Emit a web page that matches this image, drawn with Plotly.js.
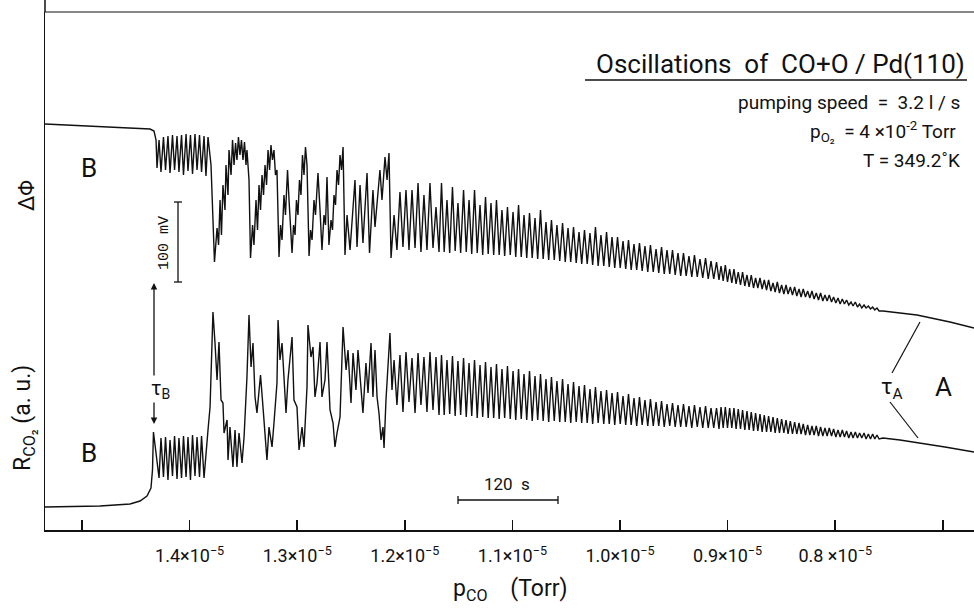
<!DOCTYPE html>
<html>
<head>
<meta charset="utf-8">
<script src="https://cdn.plot.ly/plotly-3.0.1.min.js"></script>
<style>html,body{margin:0;padding:0;background:#fff;}#chart{width:974px;height:611px;}</style>
</head>
<body>
<div id="chart"></div>
<script>
// x: p_CO in units of 1e-5 Torr ; y: signal in arbitrary units
const tickVals = [1.5, 1.4, 1.3, 1.2, 1.1, 1.0, 0.9, 0.8, 0.7];
const tickText = ['', '1.4×10<sup>−5</sup>', '1.3×10<sup>−5</sup>', '1.2×10<sup>−5</sup>', '1.1×10<sup>−5</sup>',
                  '1.0×10<sup>−5</sup>', '0.9×10<sup>−5</sup>', '0.8 ×10<sup>−5</sup>', ''];

// ΔΦ : state B and the irregular (mixed-mode) oscillations
const pcoPhiStart = [1.5344, 1.4833, 1.4368, 1.4331, 1.4312, 1.4303,
  1.4284, 1.4266, 1.4243, 1.4224, 1.4201, 1.4182, 1.4159, 1.4140, 1.4117, 1.4099, 1.4075, 1.4057,
  1.4033, 1.4015, 1.3992, 1.3973, 1.3950, 1.3931, 1.3908, 1.3889, 1.3866, 1.3848, 1.3829,
  1.3801, 1.3783, 1.3769,
  1.3745, 1.3731, 1.3717, 1.3704, 1.3690, 1.3671, 1.3662, 1.3643, 1.3634, 1.3615, 1.3601, 1.3587,
  1.3573, 1.3560, 1.3546, 1.3532, 1.3518, 1.3504, 1.3490, 1.3476, 1.3467, 1.3448, 1.3434,
  1.3415, 1.3402, 1.3383, 1.3369, 1.3355, 1.3341, 1.3327, 1.3313, 1.3299, 1.3285, 1.3271, 1.3257,
  1.3244, 1.3230, 1.3216, 1.3202, 1.3188, 1.3169,
  1.3155, 1.3141, 1.3123, 1.3109, 1.3090, 1.3076, 1.3062, 1.3048, 1.3034, 1.3020, 1.3007, 1.2993,
  1.2979, 1.2965, 1.2951, 1.2937, 1.2923, 1.2909, 1.2890,
  1.2876, 1.2862, 1.2844, 1.2830, 1.2807, 1.2788, 1.2770, 1.2751, 1.2737, 1.2723, 1.2705, 1.2686,
  1.2672, 1.2658, 1.2644, 1.2630, 1.2616, 1.2602, 1.2588, 1.2574, 1.2556,
  1.2537, 1.2509, 1.2463, 1.2444, 1.2416, 1.2389, 1.2351, 1.2328, 1.2296, 1.2277, 1.2231, 1.2212,
  1.2184, 1.2165, 1.2147, 1.2128];
const dphiStart = [406, 403, 401, 399, 390, 362,
  390, 358, 393, 360, 394, 357, 395, 360, 394, 358, 395, 355,
  396, 359, 395, 356, 396, 360, 395, 358, 394, 354, 393,
  365, 300, 268,
  302, 285, 330, 295, 345, 320, 365, 335, 380, 355, 390, 365,
  387, 370, 393, 375, 390, 370, 388, 365, 380, 350, 272,
  305, 285, 330, 300, 345, 320, 355, 335, 365, 345, 380, 360,
  385, 370, 380, 355, 360, 273,
  305, 290, 335, 315, 360, 330, 300, 277, 305, 295, 330, 315,
  350, 335, 375, 355, 383, 365, 274,
  300, 290, 330, 315, 357, 320, 280, 315, 305, 353, 285, 310,
  300, 335, 325, 360, 345, 375, 360, 383, 275,
  315, 280, 350, 283, 345, 287, 357, 277, 340, 303, 360, 330,
  373, 350, 377, 272];

// R_CO2 : state B and the irregular oscillations
const pcoRStart = [1.5344, 1.4833, 1.4554, 1.4461, 1.4396, 1.4359, 1.4345, 1.4336,
  1.4284, 1.4266, 1.4243, 1.4224, 1.4201, 1.4182, 1.4159, 1.4140, 1.4117, 1.4099, 1.4075, 1.4057,
  1.4033, 1.4015, 1.3992, 1.3973, 1.3950, 1.3931, 1.3908, 1.3889, 1.3866, 1.3848, 1.3829,
  1.3810, 1.3783, 1.3764, 1.3745, 1.3727, 1.3708, 1.3690, 1.3680, 1.3652, 1.3643, 1.3625, 1.3597,
  1.3578, 1.3560, 1.3541, 1.3513, 1.3494, 1.3467, 1.3448, 1.3429, 1.3411, 1.3392, 1.3374, 1.3341,
  1.3318, 1.3281, 1.3262, 1.3234, 1.3216, 1.3188, 1.3178, 1.3160, 1.3141, 1.3123, 1.3104, 1.3086,
  1.3048, 1.3030, 1.3002, 1.2983, 1.2955, 1.2937, 1.2909, 1.2900, 1.2872, 1.2853, 1.2835, 1.2816,
  1.2788, 1.2770, 1.2742, 1.2723, 1.2695, 1.2667, 1.2649, 1.2630, 1.2602, 1.2574, 1.2546, 1.2528,
  1.2500, 1.2481, 1.2454, 1.2435, 1.2407, 1.2389, 1.2361, 1.2342, 1.2314, 1.2296, 1.2277, 1.2258,
  1.2240, 1.2221, 1.2203, 1.2193, 1.2175, 1.2156, 1.2138, 1.2119];
const rco2Start = [23, 24, 26, 29, 34, 42, 60, 98,
  52, 92, 53, 93, 50, 90, 54, 94, 51, 92, 52, 94,
  53, 93, 50, 95, 54, 93, 53, 94, 52, 80, 100,
  123, 218, 187, 150, 188, 130, 127, 97, 110, 70, 103, 63,
  100, 63, 97, 67, 93, 153, 215, 163, 187, 133, 117, 155,
  123, 70, 103, 83, 107, 147, 210, 170, 187, 147, 117, 150,
  193, 130, 123, 80, 103, 83, 143, 205, 173, 183, 133, 147,
  188, 133, 150, 188, 120, 107, 83, 97, 113, 203, 160, 180,
  127, 177, 140, 180, 140, 117, 167, 137, 187, 133, 180, 133,
  117, 90, 103, 82, 130, 163, 197, 140];

// regular oscillations (both signals, successive maxima / minima)
const pcoOsc = [
  1.2100, 1.2073, 1.2045, 1.2017, 1.1989, 1.1961, 1.1933, 1.1905, 1.1877, 1.1850, 1.1822, 1.1794, 1.1766, 1.1738, 1.1710, 1.1682,
  1.1659, 1.1634, 1.1608, 1.1583, 1.1557, 1.1532, 1.1506, 1.1481, 1.1454, 1.1429, 1.1403, 1.1378, 1.1352, 1.1327, 1.1301, 1.1276,
  1.1250, 1.1225, 1.1199, 1.1174, 1.1148, 1.1123, 1.1097, 1.1072, 1.1046, 1.1020, 1.0994, 1.0969, 1.0943, 1.0918, 1.0892, 1.0867,
  1.0841, 1.0816, 1.0790, 1.0765, 1.0739, 1.0714, 1.0688, 1.0663, 1.0637, 1.0611, 1.0586, 1.0560, 1.0534, 1.0509, 1.0483, 1.0458,
  1.0432, 1.0407, 1.0381, 1.0356, 1.0330, 1.0305, 1.0279, 1.0254, 1.0228, 1.0203, 1.0177, 1.0151, 1.0125, 1.0100, 1.0074, 1.0049,
  1.0023, 0.9998, 0.9972, 0.9947, 0.9921, 0.9896, 0.9870, 0.9845, 0.9819, 0.9794, 0.9768, 0.9742, 0.9717, 0.9691, 0.9665, 0.9640,
  0.9614, 0.9589, 0.9563, 0.9538, 0.9512, 0.9487, 0.9461, 0.9436, 0.9410, 0.9385, 0.9359, 0.9333, 0.9308, 0.9282, 0.9257, 0.9231,
  0.9205, 0.9180, 0.9154, 0.9129, 0.9103, 0.9080,
  0.9061, 0.9041, 0.9021, 0.9001, 0.8981, 0.8961, 0.8941, 0.8921, 0.8901, 0.8880, 0.8861, 0.8840, 0.8820, 0.8800, 0.8780, 0.8759,
  0.8740, 0.8719, 0.8699, 0.8679, 0.8659, 0.8638, 0.8619, 0.8598, 0.8578, 0.8558, 0.8538, 0.8518, 0.8498, 0.8477, 0.8457, 0.8438,
  0.8417, 0.8397, 0.8377, 0.8357, 0.8336, 0.8317, 0.8297, 0.8276, 0.8256, 0.8236, 0.8216, 0.8196, 0.8176, 0.8155, 0.8136, 0.8115,
  0.8095, 0.8075, 0.8055, 0.8034, 0.8015, 0.7994, 0.7974, 0.7954, 0.7934, 0.7914, 0.7894, 0.7874, 0.7853, 0.7834, 0.7813, 0.7793,
  0.7773, 0.7753, 0.7732, 0.7713, 0.7692, 0.7672, 0.7652, 0.7632, 0.7612, 0.7592];
const dphiOsc = [
  315, 280, 338, 283, 340, 280, 340, 282, 347, 278, 335, 280, 347, 282, 323, 278,
  347, 278, 330, 277, 343, 279, 327, 277, 340, 278, 330, 276, 340, 277, 325, 275,
  333, 276, 327, 275, 330, 275, 320, 274, 323, 275, 318, 273, 325, 273, 315, 272,
  317, 272, 312, 271, 320, 271, 308, 270, 310, 270, 305, 269, 307, 268, 302, 268,
  303, 267, 298, 266, 300, 266, 297, 265, 303, 264, 295, 264, 298, 263, 293, 262,
  293, 262, 289, 261, 290, 260, 286, 260, 287, 259, 284, 258, 285, 258, 281, 257,
  283, 256, 280, 256, 280, 255, 277, 254, 277, 254, 274, 253, 275, 253, 271, 252,
  272, 251, 269, 251, 268, 250,
  264, 249, 265, 248, 261, 247, 261, 246, 258, 245, 258, 244, 255, 243, 255, 242,
  252, 242, 252, 241, 250, 240, 250, 239, 247, 238, 248, 237, 245, 236, 245, 236,
  243, 235, 243, 234, 241, 233, 241, 233, 239, 232, 239, 231, 237, 230, 237, 229,
  235, 229, 235, 228, 233, 227, 232, 226, 231, 226, 230, 225, 228, 224, 228, 223,
  226, 222, 225, 222, 224, 221, 223, 220, 222, 219];
const rco2Osc = [
  170, 125, 175, 118, 178, 128, 172, 117, 177, 125, 173, 118, 178, 120, 173, 115,
  175, 115, 170, 116, 174, 114, 169, 115, 172, 113, 167, 114, 170, 112, 165, 113,
  168, 112, 163, 112, 166, 111, 161, 112, 164, 111, 159, 110, 161, 111, 156, 110,
  159, 109, 154, 110, 156, 109, 151, 108, 153, 109, 149, 108, 151, 108, 146, 107,
  148, 108, 144, 107, 145, 107, 141, 106, 143, 107, 139, 106, 140, 106, 137, 105,
  138, 106, 134, 105, 136, 105, 132, 104, 133, 105, 130, 104, 131, 104, 128, 104,
  129, 103, 126, 104, 127, 103, 125, 103, 126, 103, 124, 102, 125, 103, 123, 102,
  124, 102, 122, 102, 122, 101,
  123, 102, 123, 102, 122, 102, 122, 101, 121, 101, 120, 100, 119, 100, 118, 99,
  117, 99, 116, 98, 115, 98, 114, 98, 113, 97, 112, 97, 111, 97, 110, 96,
  109, 96, 108, 96, 107, 96, 106, 95, 105, 95, 104, 95, 104, 94, 103, 94,
  102, 94, 102, 94, 101, 93, 100, 93, 100, 93, 99, 92, 98, 92, 98, 92,
  97, 92, 97, 91, 96, 91, 96, 91, 95, 91];

// state A (no oscillations)
const pcoTailPhi = [0.7556, 0.7240, 0.6933, 0.6710];
const dphiTail = [219, 215, 208, 202];
const pcoTailR = [0.7556, 0.7398, 0.7212, 0.6980, 0.6710];
const rco2Tail = [92, 90, 87, 83, 78];

const FONT = 'Roboto, "DejaVu Sans", sans-serif';
const lineStyle = {color: '#111', width: 1.4};

const traces = [
  {x: pcoPhiStart.concat(pcoOsc, pcoTailPhi), y: dphiStart.concat(dphiOsc, dphiTail),
   type: 'scatter', mode: 'lines', line: lineStyle, name: 'ΔΦ', hoverinfo: 'skip'},
  {x: pcoRStart.concat(pcoOsc, pcoTailR), y: rco2Start.concat(rco2Osc, rco2Tail),
   type: 'scatter', mode: 'lines', line: lineStyle, name: 'R_CO2', hoverinfo: 'skip'}
];

const P = (px, py) => ({x: (px - 45) / 929, y: (530 - py) / 518});
function pline(a, b, w) {
  const p0 = P(a[0], a[1]), p1 = P(b[0], b[1]);
  return {type: 'line', xref: 'paper', yref: 'paper', x0: p0.x, y0: p0.y, x1: p1.x, y1: p1.y,
          line: {color: '#111', width: w || 1.3}};
}
const shapes = [
  pline([45, 0], [45, 12], 1.5),
  pline([45, 12], [974, 12], 1.2),
  pline([178, 202], [178, 282], 1.3), pline([174, 202], [182, 202], 1.3), pline([174, 282], [182, 282], 1.3),
  pline([585, 80], [967, 80], 1.5),
  pline([892, 373], [920, 322], 1.2), pline([890, 402], [918, 438], 1.2),
  pline([458, 500], [558, 500], 1.3), pline([458, 496], [458, 504], 1.3), pline([558, 496], [558, 504], 1.3)
];

function txt(text, px, py, size, opts) {
  const p = P(px, py);
  return Object.assign({xref: 'paper', yref: 'paper', x: p.x, y: p.y, text: text, showarrow: false,
    xanchor: 'center', yanchor: 'middle', font: {family: FONT, size: size, color: '#111'}}, opts || {});
}
function arrow(headPx, headPy, ax, ay) {
  const p = P(headPx, headPy);
  return {xref: 'paper', yref: 'paper', x: p.x, y: p.y, ax: ax, ay: ay, text: '', showarrow: true,
          arrowhead: 2, arrowsize: 1, arrowwidth: 1.3, arrowcolor: '#111'};
}
const annotations = [
  txt('Oscillations  of  CO+O / Pd(110)', 967, 64, 26, {xanchor: 'right'}),
  txt('pumping speed  =  3.2 l / s', 962, 103, 19, {xanchor: 'right'}),
  txt('p<sub>O₂</sub>  = 4 ×10<sup>-2</sup> Torr', 958, 131, 19, {xanchor: 'right'}),
  txt('T = 349.2˚K', 962, 160, 19, {xanchor: 'right'}),
  txt('B', 89, 168, 26),
  txt('B', 89, 453, 26),
  txt('A', 943, 387, 26),
  txt('τ<sub>A</sub>', 892, 388, 22),
  txt('τ<sub>B</sub>', 160, 389, 20),
  txt('ΔΦ', 27, 196, 22, {textangle: -90}),
  txt('R<sub>CO₂</sub> (a. u.)', 24, 418, 23, {textangle: -90}),
  txt('100 mV', 164, 243, 15, {textangle: -90, font: {family: '"Liberation Mono", "DejaVu Sans Mono", monospace', size: 15, color: '#111'}}),
  txt('120  s', 507, 484, 17),
  txt('p<sub>CO</sub>    (Torr)', 510, 590, 23),
  arrow(154, 283, 0, 94),
  arrow(154, 424, 0, -23)
];

const layout = {
  width: 974, height: 611,
  margin: {l: 45, r: 0, t: 12, b: 81, pad: 0},
  paper_bgcolor: '#fff', plot_bgcolor: '#fff',
  showlegend: false,
  xaxis: {range: [1.5344, 0.6710], autorange: false, tickmode: 'array', tickvals: tickVals, ticktext: tickText,
          ticks: 'inside', ticklen: 10, tickwidth: 1.5, tickcolor: '#111', showline: true, linecolor: '#111', linewidth: 1.5,
          showgrid: false, zeroline: false, ticklabelstandoff: 9, tickfont: {family: FONT, size: 18, color: '#111'}},
  yaxis: {range: [0, 518], autorange: false, showticklabels: false, ticks: '', showline: true, linecolor: '#111', linewidth: 1.5,
          showgrid: false, zeroline: false},
  shapes: shapes,
  annotations: annotations
};

Plotly.newPlot('chart', traces, layout, {staticPlot: true, displayModeBar: false});
</script>
</body>
</html>
